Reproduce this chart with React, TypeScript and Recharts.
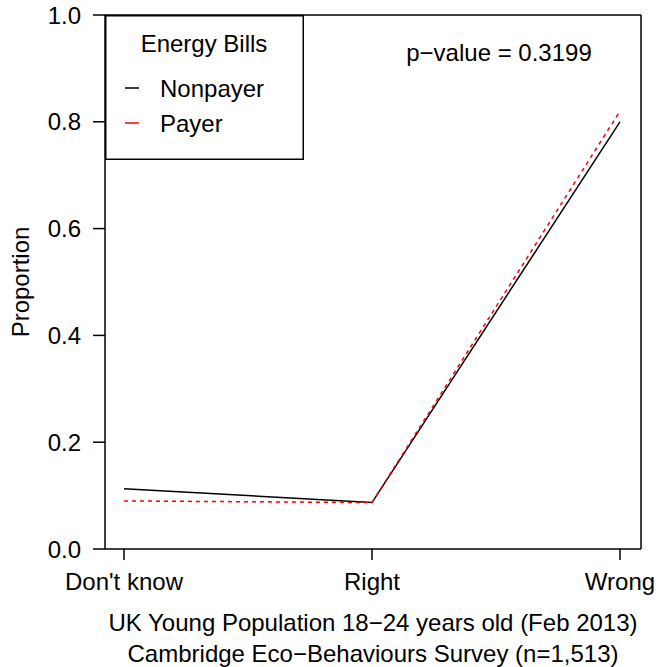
import React from 'react';
import { LineChart, Line, XAxis, YAxis, Legend } from 'recharts';

const answers = ["Don't know", 'Right', 'Wrong'];
const nonpayer = [0.113, 0.087, 0.8];
const payer = [0.09, 0.087, 0.82];
const yTicks = [0, 0.2, 0.4, 0.6, 0.8, 1.0];
const pValue = 'p\u2212value = 0.3199';
const subtitle = ['UK Young Population 18\u221224 years old (Feb 2013)', 'Cambridge Eco\u2212Behaviours Survey (n=1,513)'];

const data = answers.map((answer, i) => ({ answer, Nonpayer: nonpayer[i], Payer: payer[i] }));

const FONT = '"Liberation Sans", Arial, Helvetica, sans-serif';
const tickStyle = { fill: '#000', fontSize: 24, fontFamily: FONT };

// legend box sits in the top-left corner of the plot frame
const BillsLegend = (props: any) => {
  const items = props.payload || [];
  return (
    <svg width={199} height={145} style={{ display: 'block' }}>
      <rect x={0.75} y={0.75} width={197.5} height={143.5} fill="#fff" stroke="#000" strokeWidth={1.5} />
      <text x={99} y={37} textAnchor="middle" fontSize={24} fontFamily={FONT} fill="#000">
        Energy Bills
      </text>
      {items.map((item: any, i: number) => (
        <g key={item.value}>
          <line x1={20} x2={34} y1={73 + i * 35} y2={73 + i * 35} stroke={item.color} strokeWidth={1.5} />
          <text x={55} y={82 + i * 35} fontSize={24} fontFamily={FONT} fill="#000">
            {item.value}
          </text>
        </g>
      ))}
    </svg>
  );
};

const App: React.FC = () => {
  return (
    <div style={{ position: 'absolute', left: 0, top: 0, width: 660, height: 667, background: '#fff' }}>
      <LineChart width={660} height={667} data={data} margin={{ top: 14, right: 18, bottom: 0, left: 0 }}>
        <XAxis
          dataKey="answer"
          height={118}
          padding={{ left: 19, right: 21 }}
          interval={0}
          tickSize={11}
          tickMargin={13}
          tick={tickStyle}
          stroke="#000"
          strokeWidth={1.5}
          label={{
            content: (p: any) => {
              const vb = p.viewBox;
              const cx = vb.x + vb.width / 2;
              return (
                <text textAnchor="middle" fontSize={24} fontFamily={FONT} fill="#000">
                  <tspan x={cx} y={vb.y + 82}>{subtitle[0]}</tspan>
                  <tspan x={cx} y={vb.y + 113}>{subtitle[1]}</tspan>
                </text>
              );
            },
          }}
        />
        {/* top and right axes only close the frame */}
        <XAxis
          xAxisId="top"
          dataKey="answer"
          orientation="top"
          height={1}
          padding={{ left: 19, right: 21 }}
          tick={false}
          tickLine={false}
          stroke="#000"
          strokeWidth={1.5}
          label={{
            content: (p: any) => (
              <text x={p.viewBox.x + 394} y={p.viewBox.y + 47} textAnchor="middle" fontSize={24} fontFamily={FONT} fill="#000">
                {pValue}
              </text>
            ),
          }}
        />
        <YAxis
          width={105}
          domain={[0, 1]}
          ticks={yTicks}
          tickFormatter={(v: number) => v.toFixed(1)}
          tickSize={12}
          tickMargin={12}
          tick={tickStyle}
          stroke="#000"
          strokeWidth={1.5}
          label={{
            content: (p: any) => {
              const vb = p.viewBox;
              const cy = vb.y + vb.height / 2;
              return (
                <text x={29} y={cy} transform={`rotate(-90, 29, ${cy})`} textAnchor="middle" fontSize={24} fontFamily={FONT} fill="#000">
                  Proportion
                </text>
              );
            },
          }}
        />
        <YAxis
          yAxisId="right"
          orientation="right"
          width={1}
          domain={[0, 1]}
          tick={false}
          tickLine={false}
          stroke="#000"
          strokeWidth={1.5}
        />
        <Legend
          layout="vertical"
          align="center"
          verticalAlign="middle"
          content={<BillsLegend />}
          wrapperStyle={{ position: 'absolute', left: 105, top: 15, width: 199, height: 145 }}
        />
        <Line
          type="linear"
          dataKey="Nonpayer"
          stroke="#000"
          strokeWidth={1.5}
          dot={false}
          isAnimationActive={false}
        />
        <Line
          type="linear"
          dataKey="Payer"
          stroke="#ff0000"
          strokeWidth={1.5}
          strokeDasharray="4 4"
          dot={false}
          isAnimationActive={false}
        />
      </LineChart>
    </div>
  );
};

export default App;
